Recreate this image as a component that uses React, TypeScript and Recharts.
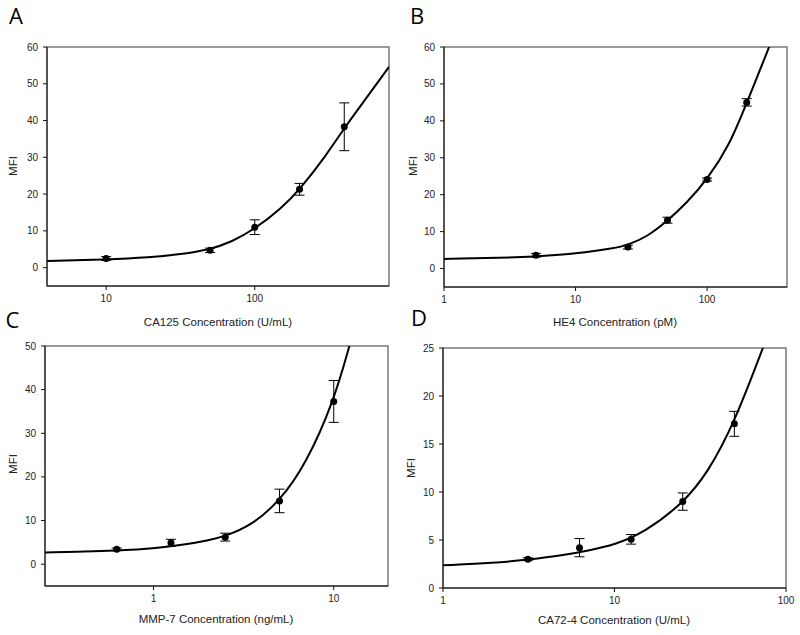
import React from 'react';
import { ComposedChart, Line, Scatter, ErrorBar, XAxis, YAxis, ReferenceArea } from 'recharts';

// measured standards (concentration, MFI, error)
const concA = [10, 50, 100, 200, 400];
const mfiA = [2.5, 4.7, 11, 21.3, 38.3];
const errA = [0.5, 0.6, 2, 1.6, 6.5];
const fitXA = [4, 10, 20, 30, 50, 70, 100, 150, 200, 300, 400, 600, 800];
const fitYA = [1.8, 2.2, 2.8, 3.5, 4.9, 7.0, 10.5, 16.0, 21.2, 30.3, 38.0, 47.6, 54.6];

const concB = [5, 25, 50, 100, 200];
const mfiB = [3.6, 5.8, 13.1, 24.1, 45];
const errB = [0.5, 0.5, 0.8, 0.4, 1];
const fitXB = [1, 2, 5, 10, 20, 25, 35, 50, 70, 100, 150, 200, 300];
const fitYB = [2.6, 2.8, 3.2, 4.0, 5.5, 6.4, 8.6, 12.9, 17.8, 24.0, 33.8, 44.8, 60.5];

const concC = [0.625, 1.25, 2.5, 5, 10];
const mfiC = [3.4, 4.9, 6.2, 14.5, 37.3];
const errC = [0.3, 0.8, 0.9, 2.7, 4.8];
const fitXC = [0.25, 0.5, 0.625, 1, 1.5, 2, 2.5, 3.5, 5, 7, 10, 12.3];
const fitYC = [2.7, 3.0, 3.1, 3.6, 4.5, 5.4, 6.4, 8.9, 14.4, 22.9, 37.3, 50.5];

const concD = [3.125, 6.25, 12.5, 25, 50];
const mfiD = [3.0, 4.2, 5.07, 9.0, 17.1];
const errD = [0.15, 0.95, 0.5, 0.9, 1.3];
const fitXD = [1, 2, 3.125, 5, 7, 10, 15, 25, 35, 50, 74];
const fitYD = [2.36, 2.6, 2.95, 3.4, 3.9, 4.5, 5.8, 8.8, 12.0, 17.2, 25.2];

const ticksA = [10, 100];
const ticksB = [1, 10, 100];
const ticksC = [1, 10];
const ticksD = [1, 10, 100];
const yTicks60 = [0, 10, 20, 30, 40, 50, 60];
const yTicks50 = [0, 10, 20, 30, 40, 50];
const yTicks25 = [0, 5, 10, 15, 20, 25];

const FONT = '"Liberation Sans", Arial, sans-serif';

const toPoints = (xs: number[], ys: number[], es: number[]) =>
  xs.map((x, i) => ({ x, y: ys[i], err: es[i] }));
const toCurve = (xs: number[], ys: number[]) => xs.map((x, i) => ({ x, y: ys[i] }));

const Title = ({ px, py, text, vertical }: any) => (
  <text
    x={px}
    y={py}
    textAnchor="middle"
    dominantBaseline="central"
    transform={vertical ? `rotate(-90, ${px}, ${py})` : undefined}
    fontSize={11.5}
    fontFamily={FONT}
    fill="#222"
  >
    {text}
  </text>
);

const Dot = (p: any) => <circle cx={p.cx} cy={p.cy} r={3.5} fill="#000" />;

interface PanelProps {
  left: number;
  top: number;
  margin: { top: number; right: number; left: number; bottom: number };
  xDomain: [number, number];
  yDomain: [number, number];
  xTicks: number[];
  yTicks: number[];
  points: { x: number; y: number; err: number }[];
  curve: { x: number; y: number }[];
  xTitle: string;
  xTitlePos: [number, number];
  yTitlePos: [number, number];
}

const Panel: React.FC<PanelProps> = (p) => (
  <div style={{ position: 'absolute', left: p.left, top: p.top }}>
    <ComposedChart width={400} height={330} margin={p.margin}>
      <ReferenceArea
        x1={p.xDomain[0]}
        x2={p.xDomain[1]}
        y1={p.yDomain[0]}
        y2={p.yDomain[1]}
        fill="none"
        stroke="#777"
        strokeWidth={1.5}
        ifOverflow="visible"
      />
      <XAxis
        dataKey="x"
        type="number"
        scale="log"
        domain={p.xDomain}
        ticks={p.xTicks}
        allowDataOverflow
        height={40}
        stroke="#111"
        tickSize={4}
        tickMargin={5}
        tick={{ fontSize: 10, fill: '#222', fontFamily: FONT }}
        label={<Title px={p.xTitlePos[0] - p.left} py={p.xTitlePos[1] - p.top} text={p.xTitle} />}
      />
      <YAxis
        type="number"
        domain={p.yDomain}
        ticks={p.yTicks}
        allowDataOverflow
        width={40}
        stroke="#111"
        tickSize={4}
        tickMargin={5}
        tick={{ fontSize: 10, fill: '#222', fontFamily: FONT }}
        label={<Title px={p.yTitlePos[0] - p.left} py={p.yTitlePos[1] - p.top} text="MFI" vertical />}
      />
      <Line
        data={p.curve}
        dataKey="y"
        type="basis"
        stroke="#000"
        strokeWidth={2}
        dot={false}
        activeDot={false}
        isAnimationActive={false}
      />
      <Scatter data={p.points} dataKey="y" shape={Dot} isAnimationActive={false}>
        <ErrorBar dataKey="err" direction="y" width={5} stroke="#000" strokeWidth={1} />
      </Scatter>
    </ComposedChart>
  </div>
);

const letterStyle = (left: number, top: number): React.CSSProperties => ({
  position: 'absolute',
  left,
  top,
  fontFamily: '"Open Sans", sans-serif',
  fontSize: 22,
  lineHeight: '22px',
  color: '#000',
});

export default function App() {
  return (
    <div style={{ position: 'absolute', left: 0, top: 0, width: 800, height: 635, background: '#fff' }}>
      <Panel
        left={0}
        top={0}
        margin={{ top: 47, right: 11, left: 7, bottom: 4 }}
        xDomain={[4, 800]}
        yDomain={[-5, 60]}
        xTicks={ticksA}
        yTicks={yTicks60}
        points={toPoints(concA, mfiA, errA)}
        curve={toCurve(fitXA, fitYA)}
        xTitle="CA125 Concentration (U/mL)"
        xTitlePos={[218, 322]}
        yTitlePos={[13, 166]}
      />
      <Panel
        left={400}
        top={0}
        margin={{ top: 47, right: 13, left: 4, bottom: 3 }}
        xDomain={[1, 405]}
        yDomain={[-5, 60]}
        xTicks={ticksB}
        yTicks={yTicks60}
        points={toPoints(concB, mfiB, errB)}
        curve={toCurve(fitXB, fitYB)}
        xTitle="HE4 Concentration (pM)"
        xTitlePos={[615, 322]}
        yTitlePos={[413, 166]}
      />
      <Panel
        left={0}
        top={300}
        margin={{ top: 46, right: 12, left: 5, bottom: 4 }}
        xDomain={[0.25, 20]}
        yDomain={[-5, 50]}
        xTicks={ticksC}
        yTicks={yTicks50}
        points={toPoints(concC, mfiC, errC)}
        curve={toCurve(fitXC, fitYC)}
        xTitle="MMP-7 Concentration (ng/mL)"
        xTitlePos={[216, 619]}
        yTitlePos={[13, 464]}
      />
      <Panel
        left={400}
        top={300}
        margin={{ top: 48, right: 14, left: 3, bottom: 2 }}
        xDomain={[1, 100]}
        yDomain={[0, 25]}
        xTicks={ticksD}
        yTicks={yTicks25}
        points={toPoints(concD, mfiD, errD)}
        curve={toCurve(fitXD, fitYD)}
        xTitle="CA72-4 Concentration (U/mL)"
        xTitlePos={[614, 620]}
        yTitlePos={[411, 468]}
      />
      <div style={letterStyle(9, 3.5)}>A</div>
      <div style={letterStyle(410, 3.5)}>B</div>
      <div style={letterStyle(5.5, 308)}>C</div>
      <div style={letterStyle(411, 306)}>D</div>
    </div>
  );
}
